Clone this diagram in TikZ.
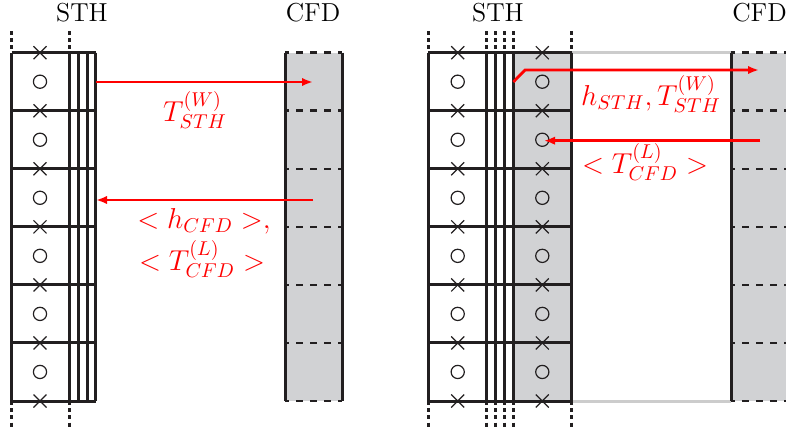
\documentclass[tikz,border=0pt]{standalone}
\usetikzlibrary{arrows.meta}
\definecolor{cfdgray}{RGB}{209,210,212}
\definecolor{lgray}{RGB}{204,204,204}
\definecolor{ink}{RGB}{34,31,32}
\begin{document}
\begin{tikzpicture}[x=0.5pt,y=-0.5pt,
  wall/.style={ink,line width=1.5pt},
  dots/.style={ink,line width=1.5pt,dash pattern=on 2pt off 1.6pt},
  cfdline/.style={ink,line width=1.3pt,dash pattern=on 3.5pt off 3.5pt,dash phase=1.5pt},
  xm/.pic={\draw[ink,line width=0.6pt] (-6.5,-6.5)--(6.5,6.5) (-6.5,6.5)--(6.5,-6.5);},
  om/.pic={\draw[ink,line width=0.6pt] (0,0) circle[radius=3.3pt];},
  flow/.style={red,line width=1.4pt,-{Latex[length=5.5pt,width=4.2pt]}},
  ttl/.style={font=\fontsize{13}{15}\selectfont},
  lbl/.style={red,font=\fontsize{14}{18}\selectfont,inner sep=1pt}]
\useasboundingbox (0,0) rectangle (786,428);

% ---------- grey fills ----------
\fill[cfdgray] (285,52.7) rectangle (342,401);
\fill[cfdgray] (513.3,52.7) rectangle (571.7,401);
\fill[cfdgray] (731,52.7) rectangle (788,401);

% ---------- left STH ----------
\foreach \i in {0,...,6}{
  \pgfmathsetmacro\yy{52.7+58.05*\i}
  \draw[wall] (11.5,\yy) -- (95.5,\yy);
}
\foreach \x in {11.5,69.3,78.3,87.3,95.5}
  \draw[wall] (\x,52.7) -- (\x,401);
\foreach \x in {11.5,69.3}{
  \draw[dots] (\x,31) -- (\x,52.7);
  \draw[dots] (\x,401) -- (\x,430);
}
\foreach \i in {0,...,6}{
  \pgfmathsetmacro\yy{52.7+58.05*\i}
  \pic at (40,\yy) {xm};
}
\foreach \i in {0,...,5}{
  \pgfmathsetmacro\yy{81.7+58.05*\i}
  \pic at (40,\yy) {om};
}

% ---------- left CFD ----------
\foreach \i in {0,...,6}{
  \pgfmathsetmacro\yy{52.7+58.05*\i}
  \draw[cfdline] (285,\yy) -- (342,\yy);
}
\draw[wall] (285,52.7) -- (285,401);
\draw[wall] (342,52.7) -- (342,401);

% ---------- right STH ----------
\draw[lgray,line width=1.5pt] (571.7,52.7) -- (731,52.7);
\draw[lgray,line width=1.5pt] (571.7,401) -- (731,401);
\foreach \i in {0,...,6}{
  \pgfmathsetmacro\yy{52.7+58.05*\i}
  \draw[wall] (428.3,\yy) -- (571.7,\yy);
}
\foreach \x in {428.3,486.7,495.7,504.3,513.3,571.7}{
  \draw[wall] (\x,52.7) -- (\x,401);
  \draw[dots] (\x,31) -- (\x,52.7);
  \draw[dots] (\x,401) -- (\x,430);
}
\foreach \i in {0,...,6}{
  \pgfmathsetmacro\yy{52.7+58.05*\i}
  \pic at (457.7,\yy) {xm};
  \pic at (542.3,\yy) {xm};
}
\foreach \i in {0,...,5}{
  \pgfmathsetmacro\yy{81.7+58.05*\i}
  \pic at (457.7,\yy) {om};
  \pic at (542.3,\yy) {om};
}

% ---------- right CFD ----------
\foreach \i in {0,...,6}{
  \pgfmathsetmacro\yy{52.7+58.05*\i}
  \draw[cfdline] (731,\yy) -- (788,\yy);
}
\draw[wall] (731,52.7) -- (731,401);
\draw[wall] (788,52.7) -- (788,401);

% ---------- titles ----------
\node[ttl] (sthL) at (82,13) {STH};
\node[ttl] (cfdL) at (313,13) {CFD};
\node[ttl] (sthR) at (498,13) {STH};
\node[ttl] (cfdR) at (759.5,13) {CFD};

% ---------- coupling arrows ----------
\coordinate (l1a) at (96,82);
\coordinate (l1b) at (313,82);
\coordinate (l2a) at (313,200);
\coordinate (l2b) at (96,200);
\draw[flow] (l1a) -- (l1b);
\draw[flow] (l2a) -- (l2b);
\node[lbl] (lw) at (195,110) {$T_{STH}^{(W)}$};
\node[lbl] (lh) at (204,221) {$<h_{CFD}>,$};
\node[lbl] (lt) at (202,259) {$<T_{CFD}^{(L)}>$};

\coordinate (r1a) at (513.3,82);
\coordinate (r1k) at (525,70);
\coordinate (r1b) at (759,70);
\coordinate (r2a) at (760,140.7);
\coordinate (r2b) at (544,140.7);
\draw[flow] (r1a) -- (r1k) -- (r1b);
\draw[flow] (r2a) -- (r2b);
\node[lbl] (rw) at (651,94) {$h_{STH},T_{STH}^{(W)}$};
\node[lbl] (rl) at (645,162) {$<T_{CFD}^{(L)}>$};
\end{tikzpicture}
\end{document}
